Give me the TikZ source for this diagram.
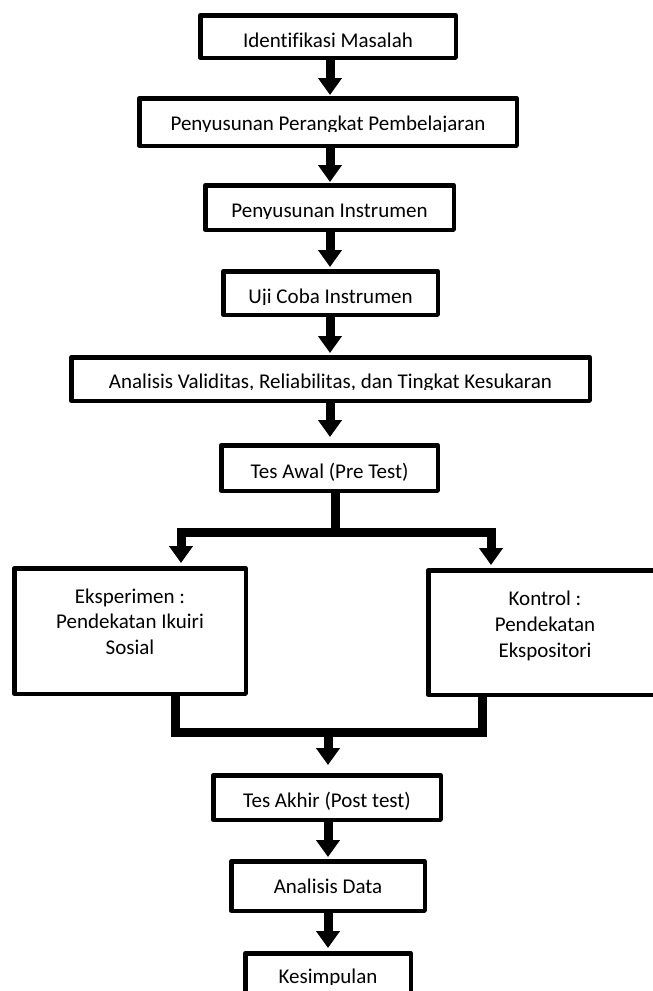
\documentclass[tikz,border=0pt]{standalone}
\usepackage{fontspec}
\setmainfont{Carlito}[Ligatures=NoCommon]
\usetikzlibrary{arrows.meta}
\tikzset{
  boxnode/.style={draw=black, fill=white, line width=4.5pt, line join=round, inner sep=0pt},
  txt/.style={inner sep=0pt, anchor=base, font=\fontsize{21}{25}\selectfont},
  conn/.style={line width=9pt, line join=miter},
  arr/.style={line width=9pt, line join=miter, -{Triangle[width=23pt,length=17pt]}},
}
\begin{document}
\begin{tikzpicture}[x=1pt,y=-1pt]
\useasboundingbox (0,0) rectangle (653,991);
% boxes
\node[boxnode, minimum width=255.5pt, minimum height=42.5pt] (b1) at (328,36.5) {};
\node[boxnode, minimum width=377.5pt, minimum height=47.5pt] (b2) at (328,122) {};
\node[boxnode, minimum width=248.5pt, minimum height=44.5pt] (b3) at (329.5,207.5) {};
\node[boxnode, minimum width=214.5pt, minimum height=43.5pt] (b4) at (330.5,293) {};
\node[boxnode, minimum width=518.5pt, minimum height=43.5pt] (b5) at (330.5,379) {};
\node[boxnode, minimum width=216.5pt, minimum height=45.5pt] (b6) at (329.5,468) {};
\node[boxnode, minimum width=231.5pt, minimum height=125.5pt] (b7) at (130,631) {};
\node[boxnode, minimum width=233.5pt, minimum height=124.5pt] (b8) at (545,632.5) {};
\node[boxnode, minimum width=227.5pt, minimum height=44.5pt] (b9) at (327,797.5) {};
\node[boxnode, minimum width=193.5pt, minimum height=49.5pt] (b10) at (328,886) {};
\node[boxnode, minimum width=165.5pt, minimum height=53.5pt] (b11) at (328,980) {};
% texts
\node[txt] (t1) at (328,47) {Identifikasi Masalah};
\begin{scope}\clip (140,100) rectangle (516,131);
\node[txt] (t2) at (328,130) {Penyusunan Perangkat Pembelajaran};
\end{scope}
\begin{scope}\clip (206,186) rectangle (453,218.5);
\node[txt] (t3) at (329.5,217) {Penyusunan Instrumen};
\end{scope}
\begin{scope}\clip (224,272) rectangle (437,304.5);
\node[txt] (t4) at (330.5,303) {Uji Coba Instrumen};
\end{scope}
\begin{scope}\clip (72,358) rectangle (589,389.5);
\node[txt] (t5) at (330.5,388) {Analisis Validitas, Reliabilitas, dan Tingkat Kesukaran};
\end{scope}
\begin{scope}\clip (222,446) rectangle (437,480);
\node[txt] (t6) at (329.5,478) {Tes Awal (Pre Test)};
\end{scope}
\node[txt] (t7a) at (130,603) {Eksperimen :};
\node[txt] (t7b) at (130,628) {Pendekatan Ikuiri};
\node[txt] (t7c) at (130,654) {Sosial};
\node[txt] (t8a) at (545,605) {Kontrol :};
\node[txt] (t8b) at (545,631) {Pendekatan};
\node[txt] (t8c) at (545,657) {Ekspositori};
\node[txt] (t9) at (327,807) {Tes Akhir (Post test)};
\node[txt] (t10) at (328,893) {Analisis Data};
\begin{scope}\clip (246,954) rectangle (410,984.5);
\node[txt] (t11) at (328,983) {Kesimpulan};
\end{scope}
% junction coordinates
\coordinate (ax) at (330,0);
\coordinate (jm) at (335,532);
\coordinate (jl) at (181,532);
\coordinate (jr) at (491,532);
\coordinate (ml) at (175,732);
\coordinate (mr) at (482,732);
\coordinate (mm) at (328,732);
% connectors
\draw[arr, shorten >=1pt] (b1.south -| ax) -- (b2.north -| ax);
\draw[arr, shorten >=1pt] (b2.south -| ax) -- (b3.north -| ax);
\draw[arr, shorten >=2pt] (b3.south -| ax) -- (b4.north -| ax);
\draw[arr, shorten >=2pt] (b4.south -| ax) -- (b5.north -| ax);
\draw[arr, shorten >=6pt] (b5.south -| ax) -- (b6.north -| ax);
\draw[conn] (b6.south -| jm) -- (jm);
\draw[arr, shorten >=3pt] (jm) -| (b7.north -| jl);
\draw[arr, shorten >=3pt] (jm) -| (b8.north -| jr);
\draw[conn] (b7.south -| ml) |- (mm);
\draw[conn] (b8.south -| mr) |- (mm);
\draw[arr, shorten >=8pt] (mm) -- (b9.north -| mm);
\draw[arr, shorten >=2pt] (b9.south -| mm) -- (b10.north -| mm);
\draw[arr, shorten >=3pt] (b10.south -| mm) -- (b11.north -| mm);
\end{tikzpicture}
\end{document}
